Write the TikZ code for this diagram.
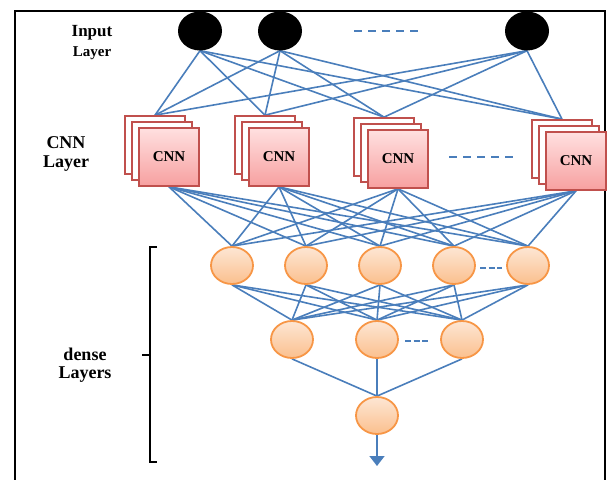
\documentclass[tikz,border=0pt]{standalone}
\usepackage{fontspec}
\setmainfont{Liberation Serif}
\usetikzlibrary{shapes.geometric,arrows.meta,backgrounds}
\definecolor{lineblue}{HTML}{4A7EBB}
\definecolor{cnnred}{HTML}{C0504D}
\definecolor{pinktop}{HTML}{FFE0E0}
\definecolor{pinkbot}{HTML}{F7A0A0}
\definecolor{orangeb}{HTML}{F79646}
\definecolor{orangetop}{HTML}{FDE6D4}
\definecolor{orangebot}{HTML}{FBC08E}
\tikzset{
  inp/.style={ellipse, fill=black, draw=none, minimum width=44pt, minimum height=39pt, inner sep=0pt},
  cnnback/.style={rectangle, draw=cnnred, line width=1.7pt, fill=white, minimum width=60pt, minimum height=58pt, inner sep=0pt},
  cnnfront/.style={rectangle, draw=cnnred, line width=1.7pt, top color=pinktop, bottom color=pinkbot, minimum width=60pt, minimum height=58pt, inner sep=0pt, font=\fontsize{15}{17}\selectfont\bfseries},
  dense/.style={ellipse, draw=orangeb, line width=1.8pt, top color=orangetop, bottom color=orangebot, minimum width=42pt, minimum height=37pt, inner sep=0pt},
  conn/.style={draw=lineblue, line width=1.6pt},
  dots/.style={draw=lineblue, line width=2pt, dash pattern=on 8pt off 6pt},
  sdots/.style={draw=lineblue, line width=2pt, dash pattern=on 6pt off 2.5pt},
  lbl/.style={font=\fontsize{18}{20}\selectfont\bfseries, align=center, inner sep=0pt},
}
\begin{document}
\begin{tikzpicture}[x=1pt,y=-1pt]
\useasboundingbox (0,0) rectangle (610,479);
% frame
\draw[line width=2pt] (15,481) -- (15,11) -- (605,11) -- (605,481);
% labels
\node[font=\fontsize{17}{19}\selectfont\bfseries, inner sep=0pt] (lin) at (92,33) {Input};
\node[font=\fontsize{15}{17}\selectfont\bfseries, inner sep=0pt] (lil) at (92,53) {Layer};
\node[lbl] (lcnn) at (66,143) {CNN};
\node[lbl] (lcl) at (66,164) {Layer};
\node[lbl] (ld) at (85,354) {dense};
\node[lbl] (ldl) at (85,375) {Layers};
% input nodes
\node[inp] (i1) at (200,31) {};
\node[inp] (i2) at (280,31) {};
\node[inp] (i3) at (527,31) {};
\coordinate (id1) at (354,31); \coordinate (id2) at (418,31);
\draw[dots] (id1) -- (id2);
% CNN stacks
\foreach \n/\x/\y in {1/155/145, 2/265/145, 3/384/147, 4/562/149}{
  \node[cnnback] (b\n) at (\x,\y) {};
  \node[cnnback] (m\n) at (\x+7,\y+6) {};
  \node[cnnfront] (f\n) at (\x+14,\y+12) {CNN};
}
\coordinate (cd1) at (449,157); \coordinate (cd2) at (513,157);
\draw[dots] (cd1) -- (cd2);
% dense layer 1
\foreach \n/\x in {1/232, 2/306, 3/380, 4/454, 5/528}{
  \node[dense] (d\n) at (\x,265.5) {};
}
\coordinate (dd1) at (480,268); \coordinate (dd2) at (502,268);
\draw[sdots] (dd1) -- (dd2);
% dense layer 2
\foreach \n/\x in {1/292, 2/377, 3/462}{
  \node[dense] (e\n) at (\x,339.5) {};
}
\coordinate (ed1) at (405,341); \coordinate (ed2) at (429,341);
\draw[sdots] (ed1) -- (ed2);
% output
\node[dense] (o) at (377,415.5) {};
\coordinate (oend) at (377,466);
% connections
\begin{pgfonlayer}{background}
\foreach \i in {1,2,3}{
  \foreach \c in {1,2,3,4}{
    \draw[conn] (i\i.south) -- (b\c.north);
  }
}
\foreach \c in {1,2,3,4}{
  \foreach \d in {1,...,5}{
    \draw[conn] (f\c.south) -- (d\d.north);
  }
}
\foreach \d in {1,...,5}{
  \foreach \e in {1,2,3}{
    \draw[conn] (d\d.south) -- (e\e.north);
  }
}
\foreach \e in {1,2,3}{
  \draw[conn] (e\e.south) -- (o.north);
}
\end{pgfonlayer}
\draw[conn, -{Triangle[width=15pt,length=10pt]}] (o.south) -- (oend);
% bracket
\coordinate (bt) at (157,247); \coordinate (bb) at (157,462); \coordinate (bm) at (142,355);
\draw[line width=1.8pt] (bt) -- (150,247) -- (150,462) -- (bb);
\draw[line width=1.8pt] (150,355) -- (bm);
\end{tikzpicture}
\end{document}
